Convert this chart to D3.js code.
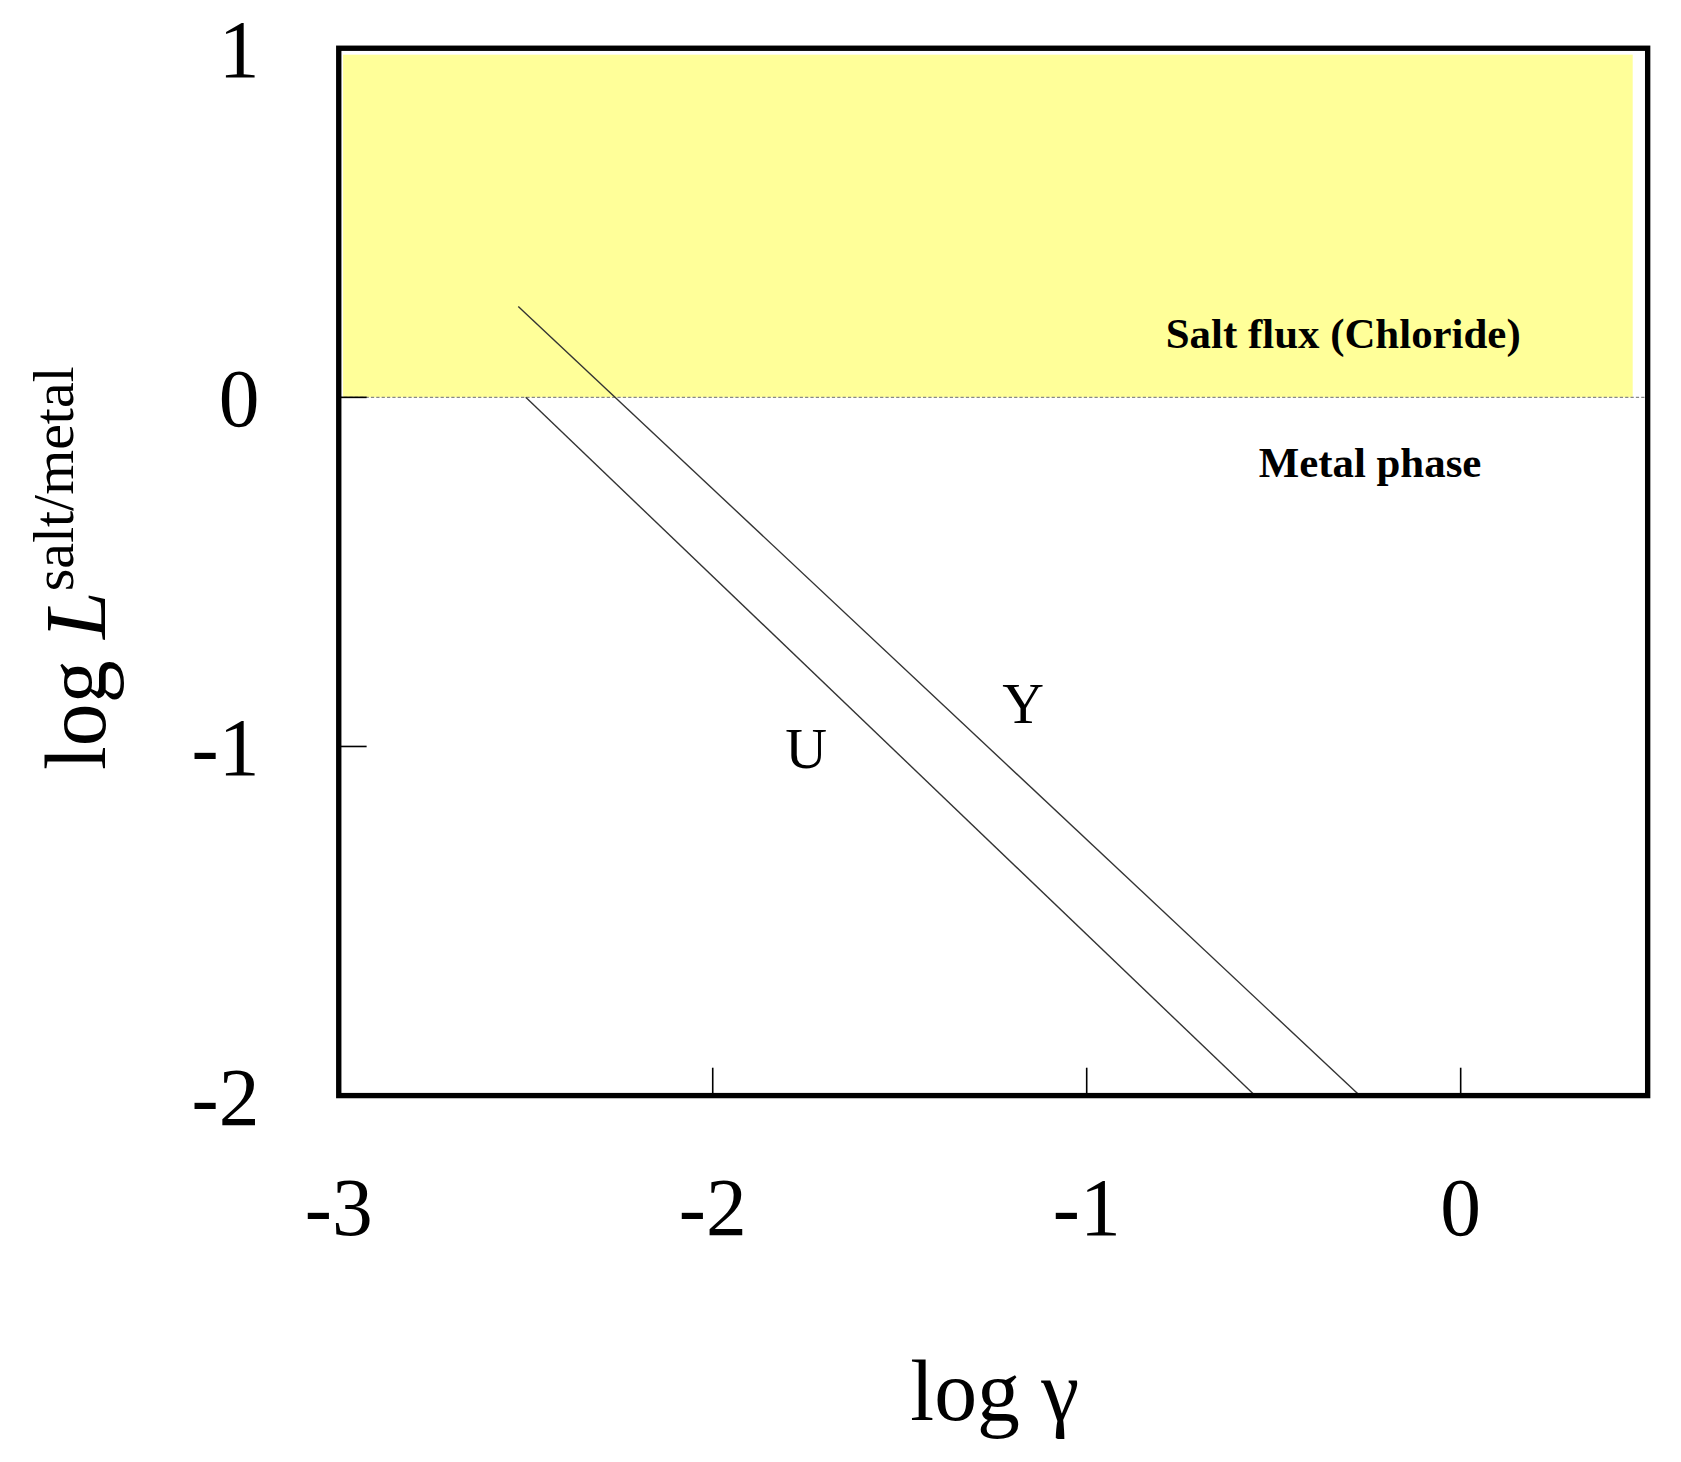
<!DOCTYPE html>
<html><head><meta charset="utf-8">
<script src="https://cdn.jsdelivr.net/npm/d3@7"></script>
<style>body{margin:0;background:#fff}</style></head>
<body><svg id="c" width="1681" height="1462"></svg>
<script>
const xTicks=[-3,-2,-1,0];
const yTicks=[-2,-1,0,1];
const lineU=[[-2.5,0],[-0.55,-2]];
const lineY=[[-2.52,0.26],[-0.27,-2]];
const labels=[{t:"U",x:-1.75,y:-1.0},{t:"Y",x:-1.17,y:-0.87}];

const root=d3.select("#c");
const svg=root.append("g").attr("transform","scale(1.072)");
const x=d3.scaleLinear().domain([-3,0.5]).range([316,1537]);
const y=d3.scaleLinear().domain([-2,1]).range([1022,45]);
const font="'Liberation Serif','Times New Roman',serif";

svg.append("rect").attr("x",x(-3)+4).attr("y",y(1)+6).attr("width",x(0.46)-x(-3)-4).attr("height",y(0)-y(1)-6).attr("fill","#ffff99");
svg.append("line").attr("x1",x(-3)).attr("x2",x(0.5)).attr("y1",y(0)).attr("y2",y(0)).attr("stroke","#888").attr("stroke-width",1).attr("stroke-dasharray","3,2");

const ln=d3.line().x(d=>x(d[0])).y(d=>y(d[1]));
[lineU,lineY].forEach(d=>svg.append("path").attr("d",ln(d)).attr("fill","none").attr("stroke","#333").attr("stroke-width",1.3));

xTicks.slice(1).forEach(t=>svg.append("line").attr("x1",x(t)).attr("x2",x(t)).attr("y1",y(-2)).attr("y2",y(-2)-26).attr("stroke","#000").attr("stroke-width",1.5));
[-1,0].forEach(t=>svg.append("line").attr("x1",x(-3)).attr("x2",x(-3)+26).attr("y1",y(t)).attr("y2",y(t)).attr("stroke","#000").attr("stroke-width",1.5));

svg.append("rect").attr("x",x(-3)).attr("y",y(1)).attr("width",x(0.5)-x(-3)).attr("height",y(-2)-y(1)).attr("fill","none").attr("stroke","#000").attr("stroke-width",5);

xTicks.forEach(t=>svg.append("text").attr("x",x(t)).attr("y",1152).attr("text-anchor","middle").attr("font-family",font).attr("font-size",76).text(t));
yTicks.forEach(t=>svg.append("text").attr("x",242).attr("y",y(t)+27).attr("text-anchor","end").attr("font-family",font).attr("font-size",76).text(t));

labels.forEach(l=>svg.append("text").attr("x",x(l.x)).attr("y",y(l.y)+20).attr("text-anchor","middle").attr("font-family",font).attr("font-size",54).text(l.t));

svg.append("text").attr("x",1253).attr("y",325).attr("text-anchor","middle").attr("font-family",font).attr("font-weight","bold").attr("font-size",40).text("Salt flux (Chloride)");
svg.append("text").attr("x",1278).attr("y",445).attr("text-anchor","middle").attr("font-family",font).attr("font-weight","bold").attr("font-size",40).text("Metal phase");

svg.append("text").attr("x",928).attr("y",1325).attr("text-anchor","middle").attr("font-family",font).attr("font-size",80).text("log γ");

const yl=svg.append("text").attr("transform","translate(98,530) rotate(-90)").attr("text-anchor","middle").attr("font-family",font).attr("font-size",80);
yl.append("tspan").text("log ");
yl.append("tspan").attr("font-style","italic").text("L");
yl.append("tspan").attr("font-size",54).attr("dy",-30).text("salt/metal");
</script></body></html>
